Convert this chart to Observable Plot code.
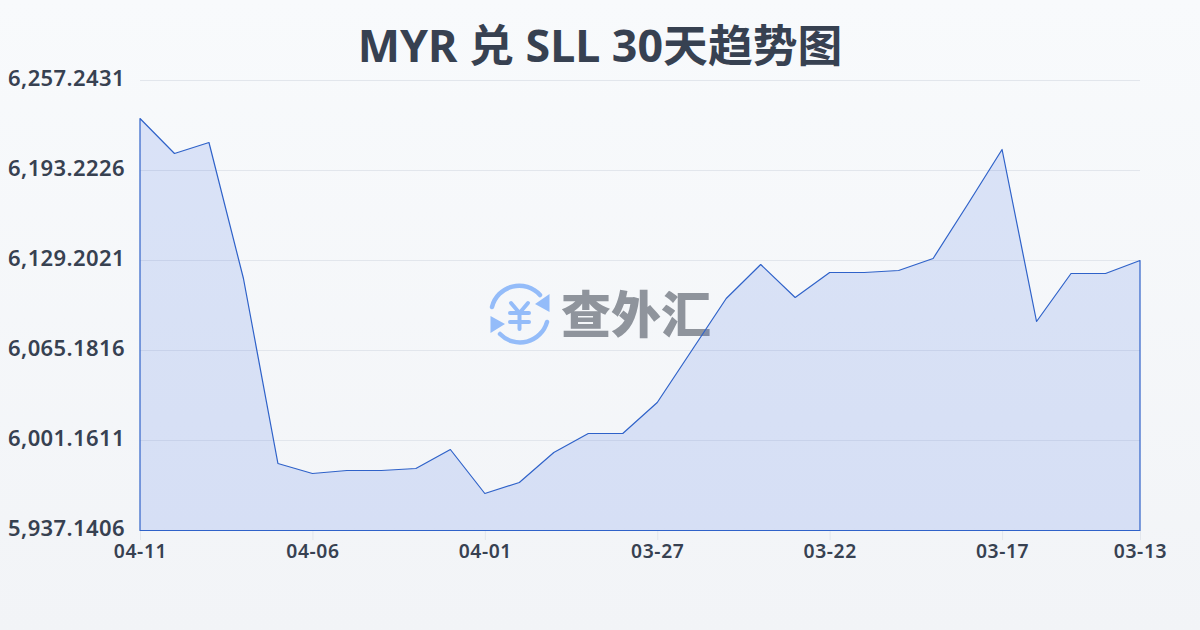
<!DOCTYPE html>
<html lang="zh">
<head>
<meta charset="utf-8">
<script src="https://cdn.jsdelivr.net/npm/d3@7"></script>
<script src="https://cdn.jsdelivr.net/npm/@observablehq/plot@0.6"></script>
<style>
html,body{margin:0;padding:0;width:1200px;height:630px;overflow:hidden;background:linear-gradient(180deg,#f8fafc 0%,#f2f4f7 100%);}
#title{height:70px;text-align:center;font:700 44.8px/90px "Noto Sans","Noto Sans CJK SC",sans-serif;color:#374151;letter-spacing:0;white-space:nowrap;}
#chart{position:absolute;left:0;top:70px;z-index:2;}
#chart svg{overflow:visible;background:transparent;}
#mark{position:absolute;left:0;top:0;z-index:1;}
</style>
</head>
<body>
<div id="title">MYR 兑 SLL 30天趋势图</div>
<svg id="mark" width="1200" height="630" viewBox="0 0 1200 630">
  <g fill="none" stroke="#94bcf9" stroke-width="4.5" stroke-linecap="round">
    <path d="M492 307 A28 28 0 0 1 540 295"/>
    <path d="M547 322 A28 28 0 0 1 500 334"/>
    <path d="M511 303 L519.5 313 L528 303 M519.5 313 V329 M510 313 H529 M510 322 H529" stroke-width="4"/>
  </g>
  <path d="M549.5 294 L549.5 312 L535 304 Z M490.500 316 L490.500 333 L505 324 Z" fill="#94bcf9"/>
  <text x="636" y="333" text-anchor="middle" font-family="Noto Sans CJK SC" font-weight="900" font-size="50" fill="#8f949c">查外汇</text>
</svg>
<div id="chart"></div>
<script>
const dates = ["04-11","04-10","04-09","04-08","04-07","04-06","04-05","04-04","04-03","04-02","04-01","03-31","03-30","03-29","03-28","03-27","03-26","03-25","03-24","03-23","03-22","03-21","03-20","03-19","03-18","03-17","03-16","03-15","03-14","03-13"];
const rates = [6230.21,6205.31,6213.14,6116.39,5984.80,5977.68,5979.82,5979.82,5981.24,5994.76,5963.46,5971.28,5992.62,6006.14,6006.14,6028.19,6065.18,6102.17,6126.35,6102.88,6120.66,6120.66,6122.09,6130.62,6169.03,6208.16,6085.81,6119.95,6119.95,6129.20];
const xTicks = ["04-11","04-06","04-01","03-27","03-22","03-17","03-13"];
const yTicks = [6257.2431,6193.2226,6129.2021,6065.1816,6001.1611,5937.1406];
const yMin = 5937.1406, yMax = 6257.2431;
const table = dates.map((d,i)=>({date:d,rate:rates[i]}));
const labelFont = '"Noto Sans",sans-serif';

const plot = Plot.plot({
  width:1200,height:560,
  marginTop:10,marginBottom:100,marginLeft:140,marginRight:60,
  style:{background:"transparent",fontFamily:labelFont},
  x:{type:"point",domain:dates,padding:0,round:false,label:null},
  y:{domain:[yMin,yMax],label:null},
  marks:[
    Plot.ruleY(yTicks.slice(0,5),{stroke:"#e2e6ec",strokeWidth:1}),
    Plot.axisX({ticks:xTicks,tickSize:10,tickPadding:4,stroke:"#e2e6ec",fill:"#374151",fontSize:19.3,fontWeight:600,label:null,anchor:"bottom",tickFormat:d=>d}),
    Plot.axisY({ticks:yTicks,tickSize:0,tickPadding:15.5,tickFormat:d3.format(",.4f"),fill:"#374151",fontSize:22,fontWeight:600,label:null,anchor:"left",dy:-2}),
    Plot.area(table,{x1:"date",y1:()=>yMin,y2:"rate",dy:0.5,fill:"#2a5ce6",fillOpacity:0.14,stroke:"#2f62c9",strokeWidth:1.2})
  ]
});
document.getElementById("chart").appendChild(plot);
plot.querySelectorAll("text").forEach(t=>{ t.style.letterSpacing = /^[0-9]{2}-/.test(t.textContent) ? "0.6px" : "0.4px"; });
</script>
</body>
</html>
